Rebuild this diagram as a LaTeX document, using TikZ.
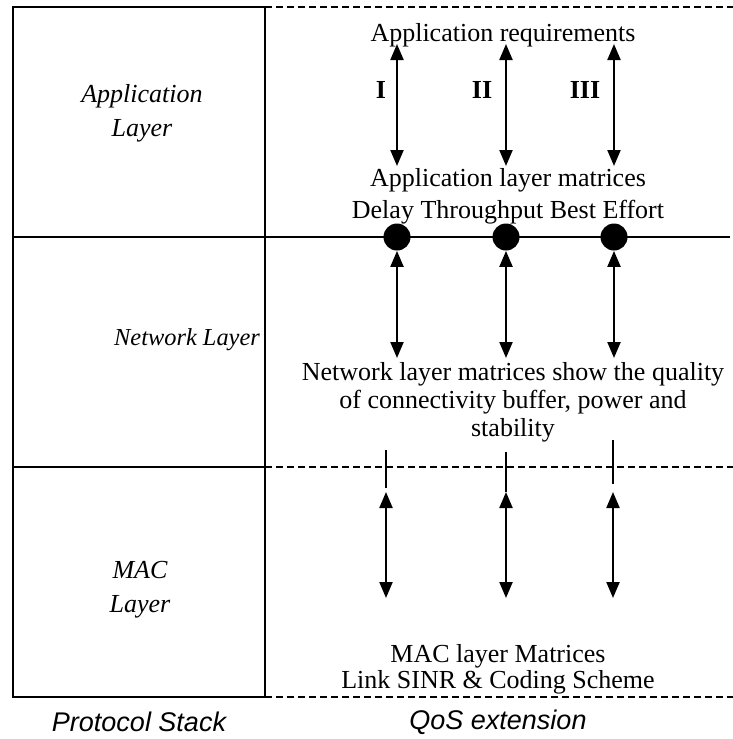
\documentclass[tikz,border=0pt]{standalone}
\usepackage{fontspec}
\setmainfont{Liberation Serif}
\setsansfont{Liberation Sans}
\usetikzlibrary{arrows.meta}
\begin{document}
\begin{tikzpicture}[x=0.5pt,y=-0.5pt,
  thickline/.style={line width=1.1pt},
  dashline/.style={line width=0.8pt, dash pattern=on 3.5pt off 2pt},
  dbl/.style={line width=1.1pt, {Triangle[length=8pt,width=6.5pt]}-{Triangle[length=8pt,width=6.5pt]}},
  layer/.style={font=\fontsize{13}{17}\selectfont\itshape, align=center, inner sep=0pt},
  qos/.style={font=\fontsize{13}{16}\selectfont, align=center, inner sep=0pt},
  numeral/.style={font=\fontsize{13}{16}\selectfont\bfseries, inner sep=0pt},
  dot/.style={circle, fill=black, inner sep=0pt, minimum size=13.5pt},
  captext/.style={font=\sffamily\itshape\fontsize{13.5}{16}\selectfont, inner sep=0pt}
]
\useasboundingbox (0,0) rectangle (733,739);
% protocol stack
\draw[thickline] (13,7) rectangle (265,697);
\draw[thickline] (13,237) -- (730,237);
\draw[thickline] (13,467) -- (265,467);
% QoS extension borders
\draw[dashline] (265,7) -- (733,7);
\draw[dashline] (265,467) -- (733,467);
\draw[dashline] (265,697) -- (733,697);

% layer names
\node[layer] (app) at (142,113) {Application\\Layer};
\node[layer, font=\fontsize{12.2}{17}\selectfont\itshape] (net) at (187,340) {Network Layer};
\node[layer] (mac) at (140,590) {MAC\\Layer};
\node[captext] (ps) at (139,722) {Protocol Stack};
\node[captext] (qe) at (498,722) {QoS extension};

% application layer
\node[qos] (req) at (503,35) {Application requirements};
\node[qos] (alm) at (508,196) {Application layer matrices\\Delay Throughput Best Effort};
\node[numeral] (l1) at (381,90) {I};
\node[numeral] (l2) at (482,90) {II};
\node[numeral] (l3) at (585,90) {III};
\coordinate (a1t) at (397,44);  \coordinate (a1b) at (397,166);
\coordinate (a2t) at (506,44);  \coordinate (a2b) at (506,166);
\coordinate (a3t) at (614,44);  \coordinate (a3b) at (614,166);
\draw[dbl] (a1t) -- (a1b);
\draw[dbl] (a2t) -- (a2b);
\draw[dbl] (a3t) -- (a3b);

% junction dots
\node[dot] (d1) at (397,237) {};
\node[dot] (d2) at (506,237) {};
\node[dot] (d3) at (614,237) {};

% network layer
\coordinate (n1b) at (397,358);
\coordinate (n2b) at (506,358);
\coordinate (n3b) at (614,358);
\draw[dbl] (d1.south) -- (n1b);
\draw[dbl] (d2.south) -- (n2b);
\draw[dbl] (d3.south) -- (n3b);
\node[qos, font=\fontsize{13}{14}\selectfont] (nettext) at (513,402)
  {Network layer matrices show the quality\\of connectivity buffer, power and\\stability};

% MAC layer
\coordinate (m1s) at (386,450); \coordinate (m1e) at (386,488);
\coordinate (m2s) at (506,452); \coordinate (m2e) at (506,492);
\coordinate (m3s) at (613,440); \coordinate (m3e) at (613,484);
\draw[thickline] (m1s) -- (m1e);
\draw[thickline] (m2s) -- (m2e);
\draw[thickline] (m3s) -- (m3e);
\coordinate (b1t) at (386,492); \coordinate (b1b) at (386,598);
\coordinate (b2t) at (506,492); \coordinate (b2b) at (506,598);
\coordinate (b3t) at (613,492); \coordinate (b3b) at (613,598);
\draw[dbl] (b1t) -- (b1b);
\draw[dbl] (b2t) -- (b2b);
\draw[dbl] (b3t) -- (b3b);
\node[qos, font=\fontsize{13}{13}\selectfont] (mactext) at (498,669)
  {MAC layer Matrices\\Link SINR \& Coding Scheme};
\end{tikzpicture}
\end{document}
